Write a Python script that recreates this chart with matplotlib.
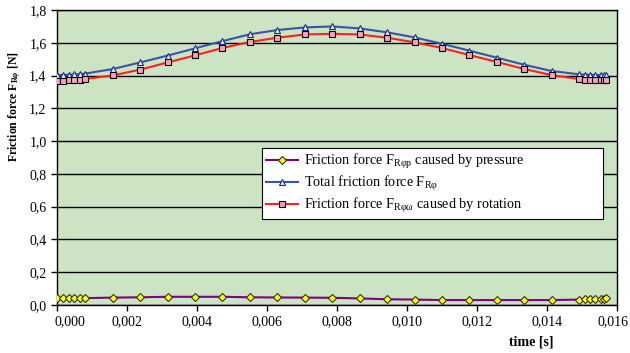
import numpy as np
import matplotlib
matplotlib.use('Agg')
import matplotlib.pyplot as plt
from matplotlib.ticker import FuncFormatter, MultipleLocator

plt.rcParams['font.family'] = 'Liberation Serif'
plt.rcParams['mathtext.fontset'] = 'custom'
plt.rcParams['mathtext.rm'] = 'Liberation Serif'
plt.rcParams['mathtext.it'] = 'Liberation Serif:italic'
plt.rcParams['mathtext.bf'] = 'Liberation Serif:bold'

# data ----------------------------------------------------------
time = [0.0, 0.00016, 0.00033, 0.00049, 0.00065, 0.0008,
        0.00159, 0.00237, 0.00316, 0.00394, 0.00472, 0.00551,
        0.00629, 0.00708, 0.00787, 0.00865, 0.00944, 0.01022,
        0.01101, 0.01179, 0.01258, 0.01336, 0.01414,
        0.01492, 0.01508, 0.01524, 0.01539, 0.01555, 0.01564, 0.0157]

pressure = [0.040, 0.040, 0.040, 0.040, 0.042, 0.042,
            0.045, 0.047, 0.050, 0.050, 0.050, 0.047,
            0.046, 0.045, 0.044, 0.040, 0.035, 0.033,
            0.030, 0.030, 0.030, 0.030, 0.030,
            0.033, 0.035, 0.035, 0.036, 0.037, 0.038, 0.040]

total = [1.403, 1.404, 1.405, 1.407, 1.409, 1.412,
         1.440, 1.480, 1.522, 1.566, 1.610, 1.652,
         1.678, 1.694, 1.700, 1.688, 1.664, 1.633,
         1.594, 1.552, 1.509, 1.466, 1.428,
         1.408, 1.406, 1.405, 1.404, 1.404, 1.403, 1.403]

rotation = [1.369, 1.370, 1.371, 1.373, 1.375, 1.379,
            1.401, 1.436, 1.480, 1.523, 1.568, 1.605,
            1.631, 1.651, 1.655, 1.651, 1.631, 1.603,
            1.568, 1.525, 1.483, 1.440, 1.403,
            1.379, 1.376, 1.374, 1.373, 1.372, 1.372, 1.372]

x_ticks = np.arange(0, 0.0161, 0.002)


def comma(v, nd):
    return ('%.*f' % (nd, v)).replace('.', ',')


# plot ------------------------------------------------------------
fig = plt.figure(figsize=(6.3, 3.53), dpi=100)
ax = fig.add_axes([0.0905, 0.136, 0.8885, 0.8355])
ax.set_facecolor('#cce4c4')

ax.plot(time, pressure, color='#800080', lw=1.5, marker='D', ms=4.5,
        mfc='#ffff33', mec='#333300', mew=0.8,
        label=r'Friction force F$_{\mathrm{R\varphi p}}$ caused by pressure', zorder=3)
ax.plot(time, total, color='#3355aa', lw=1.5, marker='^', ms=5,
        mfc='#e8eefc', mec='#1a2a80', mew=0.8,
        label=r'Total friction force F$_{\mathrm{R\varphi}}$', zorder=3)
ax.plot(time, rotation, color='#ff2020', lw=1.5, marker='s', ms=4,
        mfc='#f7a0c0', mec='#000000', mew=0.8,
        label=r'Friction force F$_{\mathrm{R\varphi\omega}}$ caused by rotation', zorder=3)

ax.set_xlim(0, 0.016)
ax.set_ylim(0, 1.8)
ax.set_xticks(x_ticks)
ax.yaxis.set_major_locator(MultipleLocator(0.2))
# first and last x labels are placed by hand (shifted like in the original)
ax.xaxis.set_major_formatter(FuncFormatter(
    lambda v, p: '' if (v < 1e-6 or v > 0.0159) else comma(v, 3)))
ax.yaxis.set_major_formatter(FuncFormatter(lambda v, p: comma(v, 1)))
ax.tick_params(direction='out', length=4, width=1, labelsize=10, colors='black')
ax.yaxis.grid(True, color='black', lw=1)
ax.set_axisbelow(True)
for s in ax.spines.values():
    s.set_color('black')
    s.set_linewidth(1)

for xv, dx in [(x_ticks[0], 9.0), (x_ticks[-1], -2.5)]:
    ax.annotate(comma(xv, 3), xy=(xv, 0), xycoords=('data', 'axes fraction'),
                xytext=(dx, -7.5), textcoords='offset points',
                ha='center', va='top', fontsize=10)

leg = ax.legend(loc='upper left', bbox_to_anchor=(0.366, 0.532, 0.609, 0.0),
                mode='expand', fontsize=10.3,
                frameon=True, fancybox=False, edgecolor='black', framealpha=1,
                borderpad=0.3, labelspacing=0.2, handlelength=2.2, handletextpad=0.45,
                borderaxespad=0)
leg.get_frame().set_linewidth(0.8)

fig.text(531 / 630, 1 - 342 / 353, 'time [s]', ha='center', va='center',
         fontsize=10, fontweight='bold')
fig.text(15 / 630, 1 - 107 / 353, r'Friction force F$_{\mathbf{R\varphi}}$ [N]',
         ha='center', va='center', rotation=90, fontsize=8.5, fontweight='bold')

plt.savefig('out.png', dpi=100)
